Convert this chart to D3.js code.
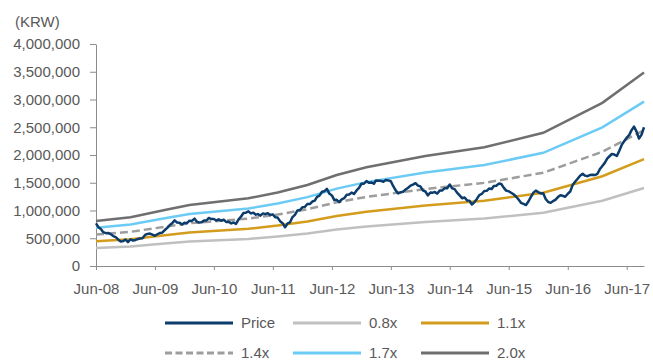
<!DOCTYPE html>
<html><head><meta charset="utf-8">
<script src="https://cdn.jsdelivr.net/npm/d3@7/dist/d3.min.js"></script>
<style>
html,body{margin:0;padding:0;background:#fff;}
text{font-family:"Liberation Sans",Arial,sans-serif;}
</style></head>
<body>
<svg id="chart" width="653" height="361"></svg>
<script>
// ---- data ----
const yTicks = [0,500000,1000000,1500000,2000000,2500000,3000000,3500000,4000000];
const xTickLabels = ["Jun-08","Jun-09","Jun-10","Jun-11","Jun-12","Jun-13","Jun-14","Jun-15","Jun-16","Jun-17"];
const bandDates = ["2008-06-01","2009-01-01","2009-08-01","2010-01-01","2011-01-01","2011-07-01","2012-01-01","2012-07-01","2013-01-01","2014-01-01","2015-01-01","2016-01-01","2017-01-01","2017-09-16"];
const band08 = [324000,352000,404000,440000,488000,530000,584000,656000,711000,793000,856000,960000,1176000,1405000];
const band11 = [446000,484000,556000,605000,671000,728000,803000,902000,978000,1090000,1177000,1320000,1617000,1925000];
const band14 = [567000,616000,707000,770000,854000,927000,1022000,1148000,1245000,1387000,1498000,1680000,2058000,2445000];
const band17 = [689000,748000,859000,935000,1037000,1125000,1241000,1394000,1511000,1685000,1819000,2040000,2499000,2962000];
const band20 = [810000,880000,1010000,1100000,1220000,1324000,1460000,1640000,1778000,1982000,2140000,2400000,2940000,3485000];
// price: two readings per month (1st and 16th), Jun-2008 .. Sep-2017
const priceValues = [
769000,700000,668000,610000,592000,596000,572000,540000,520000,478000,440000,448000,478000,430000,
482000,458000,470000,486000,494000,500000,560000,578000,584000,565000,
545000,572000,594000,600000,648000,688000,738000,772000,822000,784000,780000,748000,
778000,772000,816000,812000,855000,798000,782000,786000,818000,820000,866000,846000,
848000,820000,840000,815000,834000,795000,796000,768000,784000,760000,842000,888000,
955000,960000,985000,948000,958000,925000,935000,908000,948000,935000,952000,918000,
930000,878000,872000,808000,772000,698000,768000,788000,882000,922000,1002000,1008000,
1058000,1062000,1118000,1115000,1162000,1178000,1245000,1268000,1338000,1348000,1390000,1305000,
1272000,1188000,1192000,1152000,1202000,1222000,1282000,1288000,1322000,1298000,1362000,1408000,
1482000,1482000,1530000,1498000,1505000,1482000,1542000,1538000,1535000,1518000,1548000,1542000,
1528000,1438000,1362000,1308000,1328000,1338000,1380000,1410000,1448000,1465000,1492000,1448000,
1435000,1362000,1342000,1272000,1325000,1322000,1332000,1305000,1362000,1362000,1402000,1402000,
1468000,1398000,1385000,1322000,1272000,1222000,1234000,1182000,1175000,1108000,1152000,1208000,
1278000,1298000,1352000,1355000,1398000,1388000,1442000,1445000,1485000,1478000,1412000,1358000,
1348000,1320000,1292000,1252000,1198000,1138000,1118000,1098000,1162000,1242000,1322000,1358000,
1332000,1308000,1312000,1208000,1152000,1138000,1168000,1192000,1242000,1275000,1265000,1248000,
1302000,1342000,1458000,1518000,1572000,1628000,1662000,1628000,1618000,1638000,1642000,1638000,
1658000,1742000,1802000,1858000,1938000,1982000,2018000,2008000,1982000,2078000,2182000,2248000,
2312000,2358000,2448000,2512000,2422000,2298000,2368000,2500000
];
const seriesNames = ["Price","0.8x","1.1x","1.4x","1.7x","2.0x"];
const seriesColors = ["#0b3c6b","#c0c0c0","#d49c1c","#9d9d9d","#6ccbf4","#6f6f71"];

// ---- chart ----
const svg = d3.select("#chart");
const parse = d3.timeParse("%Y-%m-%d");
const months = d3.timeMonth.range(new Date(2008,5,1), new Date(2017,8,2));
const priceDates = months.flatMap(m => [m, d3.timeDay.offset(m, 15)]);
const price = priceValues.map((v,i) => ({d: priceDates[i], v}));
const bd = bandDates.map(parse);

const x = d3.scaleTime().domain([new Date(2008,5,1), new Date(2017,8,16)]).range([96, 644]);
const y = d3.scaleLinear().domain([0, 4000000]).range([266, 44]);

const line = d3.line().x(d => x(d.d)).y(d => y(d.v));
const bands = [band08, band11, band14, band17, band20];
const axisColor = "#8c8c8c", textColor = "#595959";

// y axis
const ya = svg.append("g").attr("transform","translate(96,0)")
  .call(d3.axisLeft(y).tickValues(yTicks).tickSize(6).tickSizeOuter(0).tickPadding(10).tickFormat(d3.format(",")));
ya.select(".domain").attr("stroke", axisColor);
ya.selectAll(".tick line").attr("stroke", axisColor);
ya.selectAll(".tick text").attr("fill", textColor).style("font-size","15px").style("font-family","'Liberation Sans',Arial,sans-serif");

// x axis
const xTickDates = xTickLabels.map((s,i) => new Date(2008+i,5,1));
const xa = svg.append("g").attr("transform","translate(0,266)")
  .call(d3.axisBottom(x).tickValues(xTickDates).tickSize(4).tickSizeOuter(0).tickPadding(13).tickFormat((d,i) => xTickLabels[i]));
xa.select(".domain").attr("stroke", axisColor);
xa.selectAll(".tick line").attr("stroke", axisColor);
xa.selectAll(".tick text").attr("fill", textColor).style("font-size","15px").style("font-family","'Liberation Sans',Arial,sans-serif");

svg.append("text").attr("x",15).attr("y",27).attr("fill",textColor).style("font-size","15px").text("(KRW)");

// bands
bands.forEach((b, k) => {
  const data = b.map((v,i) => ({d: bd[i], v}));
  svg.append("path").datum(data).attr("d", line).attr("fill","none")
    .attr("stroke", seriesColors[k+1]).attr("stroke-width", 2.5)
    .attr("stroke-dasharray", k === 2 ? "8,4" : null);
});
// price
svg.append("path").datum(price).attr("d", line).attr("fill","none")
  .attr("stroke", seriesColors[0]).attr("stroke-width", 2.5).attr("stroke-linejoin","round");

// legend
const legX = [165, 293, 421], legY = [323, 353];
seriesNames.forEach((n, i) => {
  const cx = legX[i % 3], cy = legY[Math.floor(i / 3)];
  svg.append("line").attr("x1", cx).attr("x2", cx + 68).attr("y1", cy).attr("y2", cy)
    .attr("stroke", seriesColors[i]).attr("stroke-width", 3)
    .attr("stroke-dasharray", i === 3 ? "7,3.5" : null);
  svg.append("text").attr("x", cx + 76).attr("y", cy + 5).attr("fill", textColor)
    .style("font-size","15px").text(n);
});
</script>
</body></html>
